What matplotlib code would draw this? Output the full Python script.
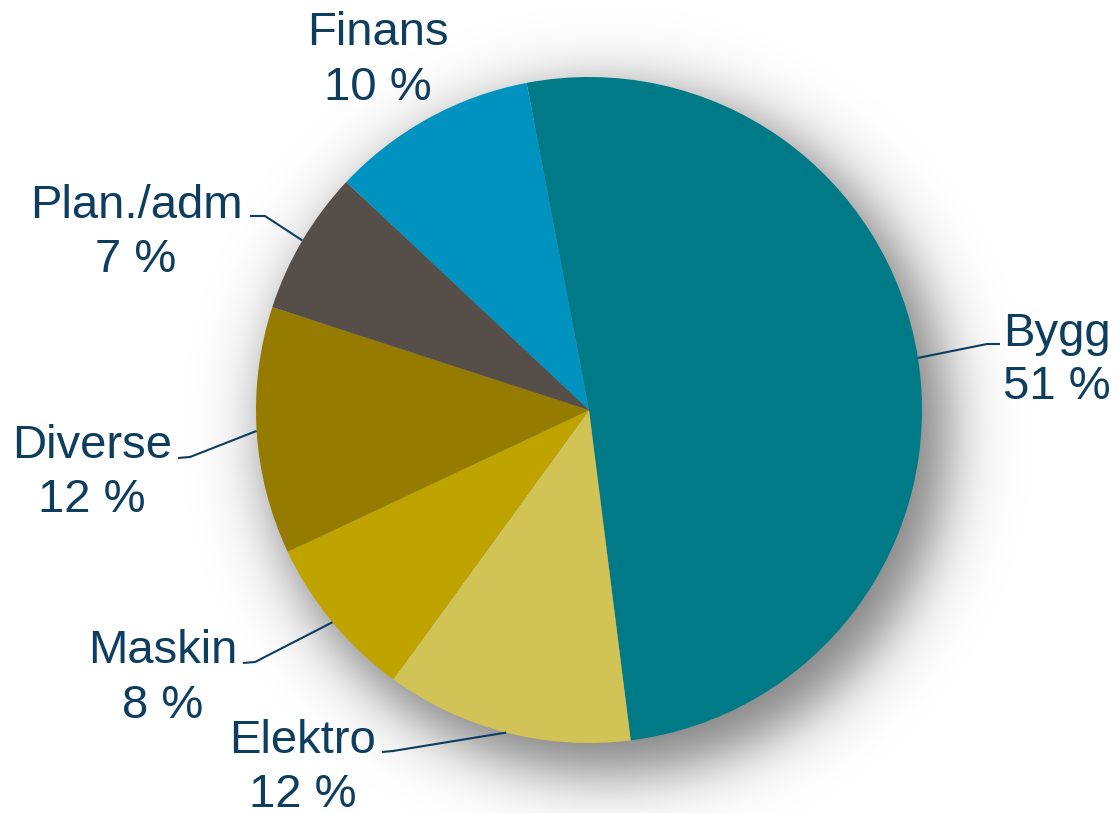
import numpy as np
import matplotlib
matplotlib.use("Agg")
import matplotlib.pyplot as plt

# ---- data ----
categories = ["Bygg", "Elektro", "Maskin", "Diverse", "Plan./adm", "Finans"]
values = [51, 12, 8, 12, 7, 10]
colors = ["#007A87", "#D2C357", "#BFA400", "#957B00", "#564E48", "#0093BF"]

# ---- layout (pixel coords, y down) ----
W, H = 1118, 813
CX, CY, R = 589, 410, 333
label_pos = {  # center x, baseline of name, baseline of pct
    "Bygg": (1057, 346, 399),
    "Elektro": (303, 753, 807),
    "Maskin": (163, 663, 718),
    "Diverse": (92, 458, 512),
    "Plan./adm": (136, 218, 272),
    "Finans": (378, 45, 100),
}
leader_pts = {  # elbow, end
    "Bygg": [(987, 344), (1000, 344)],
    "Elektro": [(393, 751), (382, 752)],
    "Maskin": [(255, 662), (243, 663)],
    "Diverse": [(190, 457), (178, 458)],
    "Plan./adm": [(265, 216), (250, 216)],
}
text_color = "#0D3D5F"

plt.rcParams['font.family'] = ['Liberation Sans', 'DejaVu Sans']
fig = plt.figure(figsize=(W / 100, H / 100), dpi=100)
ax = fig.add_axes([0, 0, 1, 1])
ax.set_xlim(0, W)
ax.set_ylim(0, H)
ax.set_aspect('equal')
ax.axis('off')

def Y(y):
    return H - y

# soft shadow
xx, yy = np.meshgrid(np.arange(W) + 0.5, np.arange(H) + 0.5)
d = np.hypot(xx - (CX + 18), yy - (CY + 22))
alpha = 0.5 / (1 + np.exp((d - (R + 8)) / 18.0))
img = np.zeros((H, W, 4))
img[..., 3] = alpha
ax.imshow(img, extent=(0, W, 0, H), origin='upper', zorder=0, interpolation='bilinear')

wedges, _ = ax.pie(values, colors=colors, startangle=100.8, counterclock=False,
                   center=(CX, Y(CY)), radius=R, frame=True,
                   wedgeprops=dict(linewidth=0, zorder=2))
ax.set_xlim(0, W)
ax.set_ylim(0, H)
ax.axis('off')

for w, name, v in zip(wedges, categories, values):
    lx, yb1, yb2 = label_pos[name]
    ax.text(lx, Y(yb1), name, ha='center', va='baseline', fontsize=34,
            color=text_color, zorder=5)
    ax.text(lx, Y(yb2), f"{v} %", ha='center', va='baseline', fontsize=34,
            color=text_color, zorder=5)
    if name in leader_pts:
        mid = np.deg2rad((w.theta1 + w.theta2) / 2)
        ex = CX + R * np.cos(mid)
        ey = Y(CY) + R * np.sin(mid)
        pts = [(ex, ey)] + [(px, Y(py)) for px, py in leader_pts[name]]
        ax.plot([p[0] for p in pts], [p[1] for p in pts], color=text_color,
                lw=1.5, zorder=4, solid_capstyle='butt')

fig.savefig("out.png", dpi=100)
